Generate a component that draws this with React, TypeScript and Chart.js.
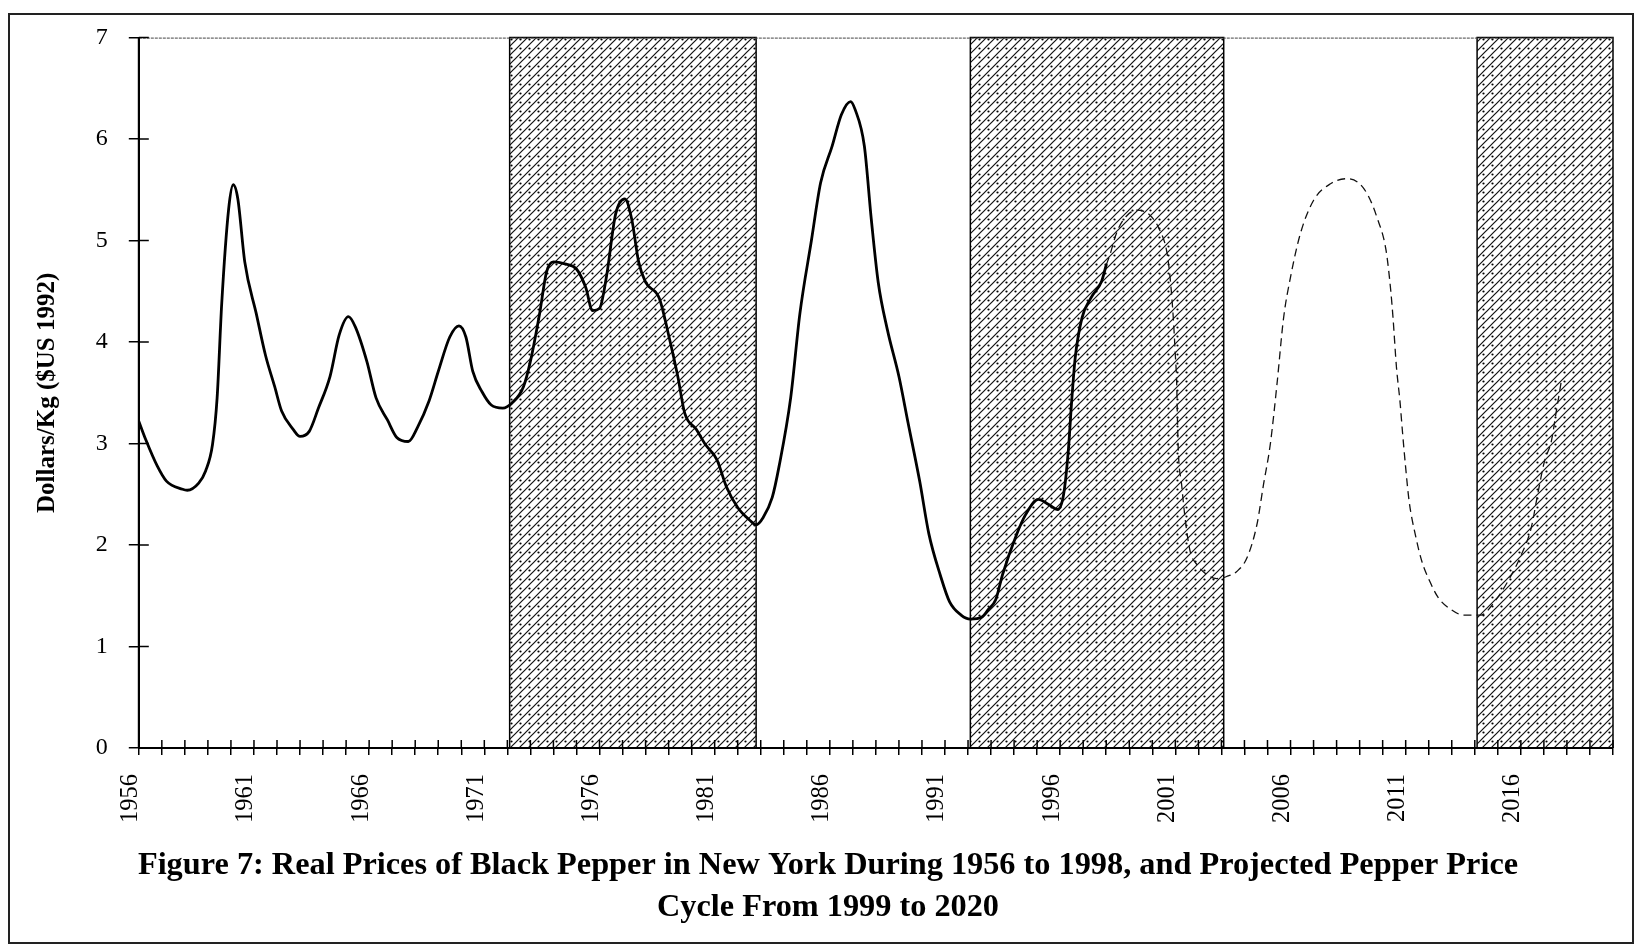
import React, { useEffect, useRef } from 'react';
import { Chart, registerables } from 'chart.js';

Chart.register(...registerables);

// ---- Data ----
const actualYears = [
  1956.0, 1956.3, 1956.8, 1957.2, 1957.9, 1958.1, 1958.6, 1958.9, 1959.2, 1959.4,
  1959.6, 1959.9, 1960.1, 1960.3, 1960.6, 1961.1, 1961.5, 1961.9, 1962.2, 1962.7,
  1963.0, 1963.4, 1963.8, 1964.3, 1964.7, 1965.1, 1965.4, 1965.9, 1966.3, 1966.8,
  1967.2, 1967.7, 1968.1, 1968.6, 1969.0, 1969.5, 1969.9, 1970.2, 1970.5, 1970.9,
  1971.3, 1971.8, 1972.2, 1972.7, 1973.0, 1973.4, 1973.7, 1974.0, 1974.5, 1975.0,
  1975.4, 1975.7, 1976.0, 1976.3, 1976.7, 1977.1, 1977.4, 1977.7, 1978.0, 1978.6,
  1979.0, 1979.4, 1979.7, 1980.2, 1980.6, 1981.1, 1981.5, 1982.0, 1982.5, 1982.8,
  1983.1, 1983.5, 1983.8, 1984.3, 1984.7, 1985.2, 1985.6, 1986.1, 1986.5, 1986.9,
  1987.1, 1987.5, 1987.8, 1988.1, 1988.5, 1989.0, 1989.4, 1989.9, 1990.3, 1990.8,
  1991.2, 1991.7, 1992.1, 1992.6, 1992.9, 1993.2, 1993.5, 1994.1, 1994.5, 1995.05,
  1995.5, 1995.9, 1996.15, 1996.35, 1996.5, 1996.65, 1996.95, 1997.35, 1997.8, 1998.0,
];
const actualPrices = [
  3.22, 3.04, 2.78, 2.63, 2.55, 2.54, 2.61, 2.73, 2.99, 3.45,
  4.38, 5.31, 5.55, 5.41, 4.79, 4.28, 3.87, 3.56, 3.32, 3.14,
  3.07, 3.12, 3.35, 3.66, 4.07, 4.25, 4.15, 3.81, 3.45, 3.23,
  3.06, 3.02, 3.16, 3.42, 3.71, 4.05, 4.16, 4.05, 3.71, 3.51,
  3.38, 3.35, 3.40, 3.56, 3.81, 4.28, 4.69, 4.79, 4.77, 4.72,
  4.54, 4.31, 4.33, 4.64, 5.26, 5.41, 5.21, 4.79, 4.59, 4.43,
  4.07, 3.66, 3.30, 3.14, 2.99, 2.84, 2.58, 2.37, 2.25, 2.20,
  2.27, 2.47, 2.78, 3.45, 4.28, 5.00, 5.57, 5.93, 6.24, 6.37,
  6.29, 5.93, 5.21, 4.59, 4.12, 3.66, 3.20, 2.63, 2.11, 1.70,
  1.44, 1.31, 1.27, 1.29, 1.37, 1.46, 1.71, 2.10, 2.30, 2.45,
  2.40, 2.35, 2.50, 2.92, 3.42, 3.84, 4.24, 4.44, 4.60, 4.76,
];

const projYears = [
  1998.0, 1998.16, 1998.44, 1998.73, 1999.31, 1999.9, 2000.33, 2000.62, 2000.77, 2000.91,
  2000.99, 2001.06, 2001.09, 2001.13, 2001.27, 2001.42, 2001.64, 2001.93, 2002.36, 2002.8,
  2003.23, 2003.67, 2004.1, 2004.54, 2004.83, 2005.12, 2005.41, 2005.7, 2006.0, 2006.43,
  2007.01, 2007.74, 2008.46, 2009.0, 2009.4, 2009.75, 2010.15, 2010.35, 2010.45, 2010.6,
  2010.75, 2010.87, 2011.0, 2011.15, 2011.42, 2011.7, 2012.05, 2012.42, 2013.0, 2013.5,
  2014.27, 2014.85, 2015.43, 2016.01, 2016.45, 2016.73, 2017.03, 2017.32, 2017.54, 2017.76,
];
const projPrices = [
  4.76, 4.86, 5.07, 5.20, 5.30, 5.25, 5.10, 4.90, 4.64, 4.24,
  3.91, 3.58, 3.25, 2.92, 2.60, 2.27, 1.94, 1.81, 1.71, 1.67,
  1.69, 1.74, 1.87, 2.20, 2.60, 2.99, 3.58, 4.24, 4.64, 5.07,
  5.40, 5.56, 5.61, 5.56, 5.43, 5.23, 4.90, 4.51, 4.24, 3.75,
  3.42, 3.09, 2.76, 2.43, 2.10, 1.84, 1.64, 1.48, 1.36, 1.31,
  1.31, 1.44, 1.64, 1.90, 2.17, 2.50, 2.83, 3.02, 3.32, 3.62,
];

const shadeStarts = [1972.1, 1992.1, 2014.1];
const shadeEnds = [1982.8, 2003.1, 2020];

const xMin = 1956;
const xMax = 2020;
const yMin = 0;
const yMax = 7;
const xLabelYears = [1956, 1961, 1966, 1971, 1976, 1981, 1986, 1991, 1996, 2001, 2006, 2011, 2016];
const yTitle = 'Dollars/Kg ($US 1992)';
const titleLines = [
  'Figure 7: Real Prices of Black Pepper in New York During 1956 to 1998, and Projected Pepper Price',
  'Cycle From 1999 to 2020',
];

const SERIF = "'Liberation Serif', 'Times New Roman', serif";

function makeHatchPattern(): CanvasPattern | string {
  const n = 9;
  const c = document.createElement('canvas');
  c.width = n;
  c.height = n;
  const g = c.getContext('2d');
  if (!g) return '#bbb';
  g.fillStyle = '#ffffff';
  g.fillRect(0, 0, n, n);
  g.strokeStyle = '#111';
  g.lineWidth = 1.2;
  g.beginPath();
  g.moveTo(-1, n + 1);
  g.lineTo(n + 1, -1);
  g.moveTo(-1, 1);
  g.lineTo(1, -1);
  g.moveTo(n - 1, n + 1);
  g.lineTo(n + 1, n - 1);
  g.stroke();
  g.fillStyle = '#000';
  g.beginPath();
  g.arc(6.5, 6.5, 1.1, 0, Math.PI * 2);
  g.fill();
  const p = g.createPattern(c, 'repeat');
  return p || '#bbb';
}

const axisDecor = {
  id: 'axisDecor',
  afterDatasetsDraw(chart: any) {
    const { ctx, chartArea, scales } = chart;
    const xs = scales.x;
    const ys = scales.y;
    ctx.save();
    // top border of plot area
    ctx.strokeStyle = '#444';
    ctx.lineWidth = 1;
    ctx.setLineDash([3, 1]);
    ctx.beginPath();
    ctx.moveTo(chartArea.left, chartArea.top + 0.5);
    ctx.lineTo(chartArea.right, chartArea.top + 0.5);
    ctx.stroke();
    ctx.setLineDash([]);
    // inner half of crossing tick marks
    ctx.strokeStyle = '#000';
    ctx.lineWidth = 1.5;
    ctx.beginPath();
    xs.ticks.forEach((t: any) => {
      const px = xs.getPixelForValue(t.value);
      ctx.moveTo(px, chartArea.bottom);
      ctx.lineTo(px, chartArea.bottom - 8);
    });
    ys.ticks.forEach((t: any) => {
      const py = ys.getPixelForValue(t.value);
      ctx.moveTo(chartArea.left, py);
      ctx.lineTo(chartArea.left + 10, py);
    });
    ctx.stroke();
    // axis lines
    ctx.lineWidth = 2;
    ctx.beginPath();
    ctx.moveTo(chartArea.left, chartArea.bottom);
    ctx.lineTo(chartArea.right, chartArea.bottom);
    ctx.moveTo(chartArea.left, chartArea.top);
    ctx.lineTo(chartArea.left, chartArea.bottom);
    ctx.stroke();
    ctx.restore();
  },
};

export default function App() {
  const canvasRef = useRef<HTMLCanvasElement | null>(null);

  useEffect(() => {
    const canvas = canvasRef.current;
    if (!canvas) return;
    const pattern = makeHatchPattern();

    const shadeSets = shadeStarts.map((s, i) => ({
      label: 'shade' + i,
      data: [
        { x: s, y: yMin },
        { x: s, y: yMax },
        { x: shadeEnds[i], y: yMax },
        { x: shadeEnds[i], y: yMin },
      ],
      borderColor: '#000',
      borderWidth: 1.5,
      backgroundColor: pattern,
      fill: 'origin',
      pointRadius: 0,
      tension: 0,
      order: 3,
      clip: 4,
    }));

    const chart = new Chart(canvas, {
      type: 'line',
      data: {
        datasets: [
          {
            label: 'Real price',
            data: actualYears.map((x, i) => ({ x, y: actualPrices[i] })),
            borderColor: '#000',
            borderWidth: 2.8,
            pointRadius: 0,
            cubicInterpolationMode: 'monotone',
            borderJoinStyle: 'round',
            borderCapStyle: 'round',
            fill: false,
            order: 0,
          },
          {
            label: 'Projected',
            data: projYears.map((x, i) => ({ x, y: projPrices[i] })),
            borderColor: '#111',
            borderWidth: 1.3,
            borderDash: [8, 5],
            pointRadius: 0,
            cubicInterpolationMode: 'monotone',
            fill: false,
            order: 1,
          },
          ...shadeSets,
        ] as any,
      },
      options: {
        responsive: false,
        animation: false,
        devicePixelRatio: 1,
        layout: { padding: { top: 22.6, left: 14, right: 0, bottom: 0 } },
        plugins: {
          legend: { display: false },
          tooltip: { enabled: false },
          title: {
            display: true,
            position: 'bottom',
            text: titleLines,
            color: '#000',
            font: { family: SERIF, size: 32.3, weight: 'bold', lineHeight: 1.3 },
            padding: { top: 4, bottom: 13 },
          },
        },
        scales: {
          x: {
            type: 'linear',
            min: xMin,
            max: xMax,
            afterFit: (s: any) => {
              s.height = 93;
              s.paddingLeft = 0;
              s.paddingRight = 0;
            },
            grid: {
              drawOnChartArea: false,
              drawTicks: true,
              tickLength: 7,
              color: '#000',
              lineWidth: 1.5,
            },
            border: { display: true, color: '#000', width: 2 },
            ticks: {
              stepSize: 1,
              autoSkip: false,
              minRotation: 90,
              maxRotation: 90,
              padding: 19,
              labelOffset: -8,
              color: '#000',
              font: { family: SERIF, size: 24.5 },
              callback: (v: any) => (xLabelYears.includes(Number(v)) ? String(v) : ''),
            },
          },
          y: {
            type: 'linear',
            min: yMin,
            max: yMax,
            afterFit: (s: any) => {
              s.width = 114.8;
              s.paddingTop = 0;
              s.paddingBottom = 0;
            },
            grid: {
              drawOnChartArea: false,
              drawTicks: true,
              tickLength: 10,
              color: '#000',
              lineWidth: 1.5,
            },
            border: { display: true, color: '#000', width: 2 },
            ticks: {
              stepSize: 1,
              padding: 21,
              color: '#000',
              font: { family: SERIF, size: 24 },
              callback: (v: any) => String(v),
            },
            title: {
              display: true,
              text: yTitle,
              color: '#000',
              font: { family: SERIF, size: 25, weight: 'bold', lineHeight: 1.2 },
              padding: { top: 9, bottom: 0 },
            },
          },
          yR: {
            type: 'linear',
            position: 'right',
            display: true,
            afterFit: (s: any) => {
              s.width = 19;
              s.paddingTop = 0;
              s.paddingBottom = 0;
            },
            grid: { display: false, drawTicks: false },
            border: { display: false },
            ticks: { display: false },
          },
        },
      } as any,
      plugins: [axisDecor],
    });

    return () => {
      chart.destroy();
    };
  }, []);

  return (
    <div
      style={{
        position: 'absolute',
        left: 8,
        top: 13,
        width: 1626,
        height: 931,
        boxSizing: 'border-box',
        border: '2px solid #222',
        background: '#fff',
      }}
    >
      <canvas ref={canvasRef} width={1622} height={927} style={{ display: 'block' }} />
    </div>
  );
}
